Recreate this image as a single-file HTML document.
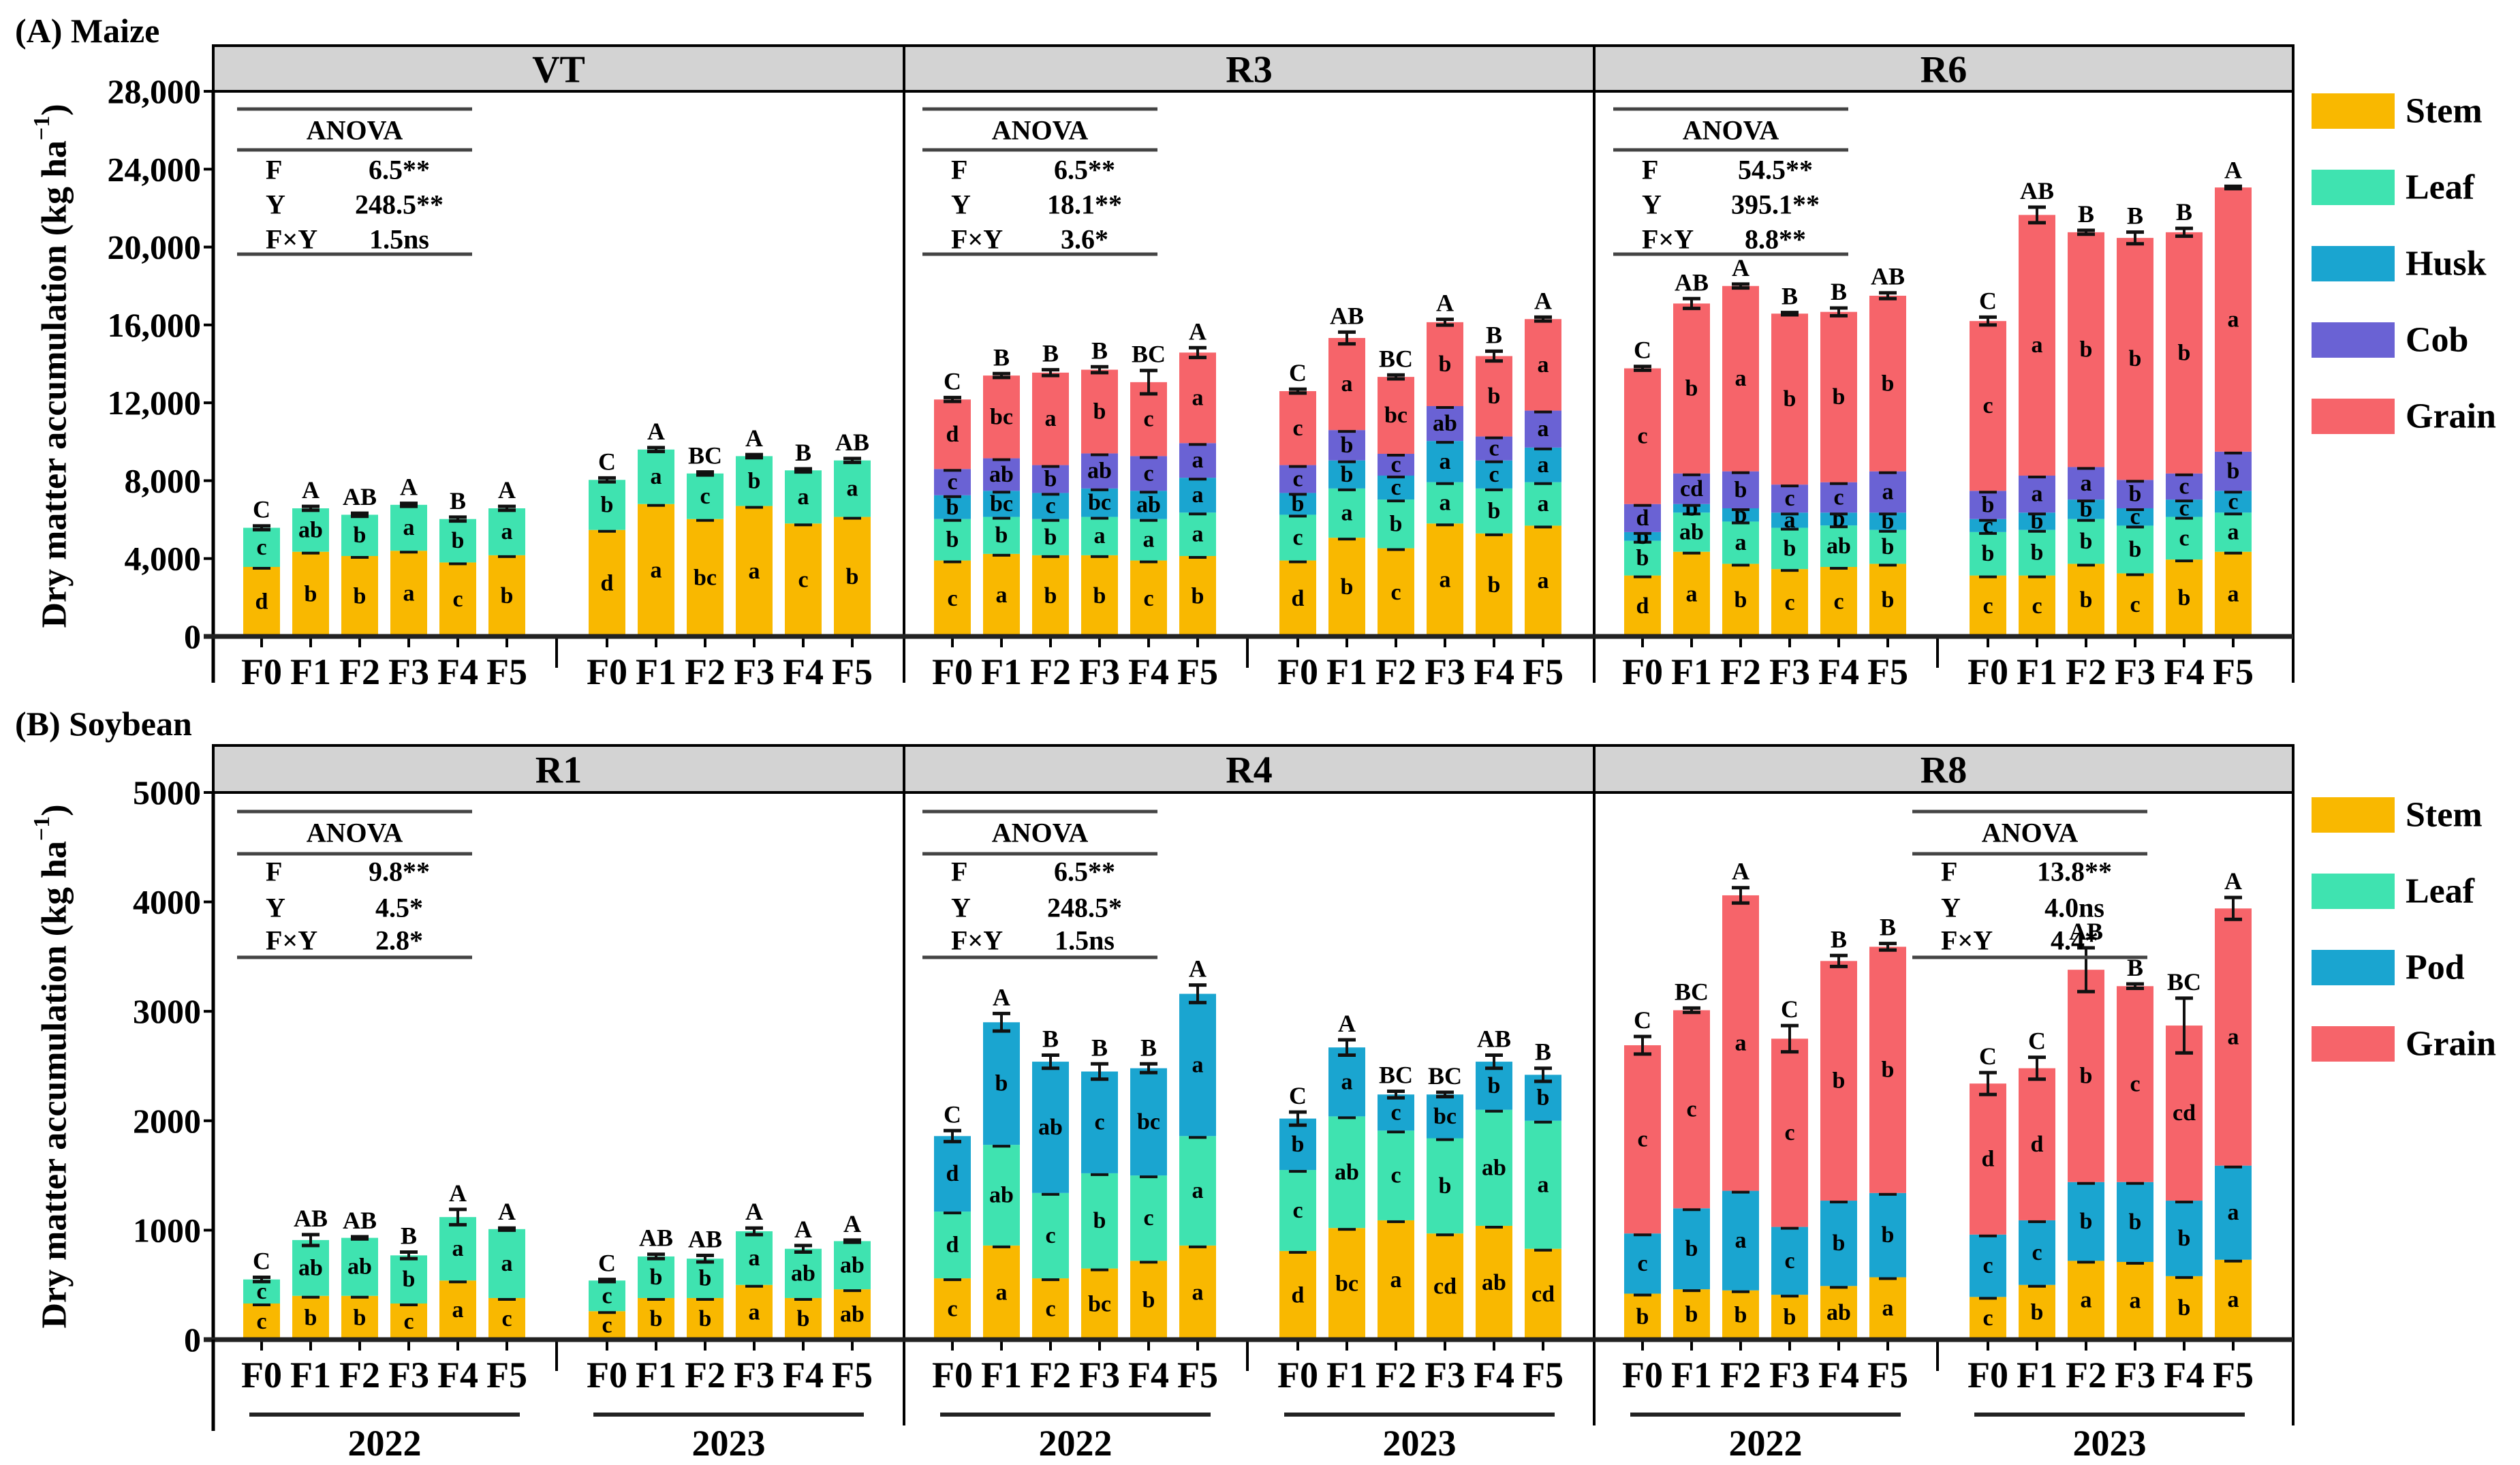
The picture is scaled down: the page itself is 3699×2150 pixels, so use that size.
<!DOCTYPE html>
<html><head><meta charset="utf-8"><style>
html,body{margin:0;padding:0;background:#fff;}
svg{display:block;font-family:"Liberation Serif",serif;font-weight:bold;}
</style></head><body>
<svg id="chart" width="3699" height="2150" viewBox="0 0 3699 2150" xmlns="http://www.w3.org/2000/svg"></svg>
<script>
// ---------- data (kg/ha) ----------
const treatments = ['F0','F1','F2','F3','F4','F5'];
const years = ['2022','2023'];
const maizeYTicks = [0,4000,8000,12000,16000,20000,24000,28000];
const maizeYTickLabels = ['0','4,000','8,000','12,000','16,000','20,000','24,000','28,000'];
const soyYTicks = [0,1000,2000,3000,4000,5000];
const soyYTickLabels = ['0','1000','2000','3000','4000','5000'];

const vtStem = [3570,4350,4130,4400,3800,4170, 5470,6800,6030,6700,5800,6140];
const vtLeaf = [2010,2230,2120,2360,2230,2410, 2570,2800,2340,2560,2730,2900];
const vtErr  = [100,100,80,80,100,100, 100,100,80,80,80,100];

const r3Stem  = [3900,4240,4170,4170,3900,4130, 3900,5070,4530,5800,5290,5690];
const r3Leaf  = [2130,1900,1860,1970,2130,2230, 2350,2530,2500,2120,2310,2230];
const r3Husk  = [1220,1340,1340,1460,1450,1790, 1120,1440,1230,2120,1440,1780];
const r3Cob   = [1350,1670,1430,1800,1780,1780, 1430,1560,1120,1790,1230,1900];
const r3Grain = [3570,4250,4750,4300,3800,4650, 3800,4730,3950,4310,4130,4700];
const r3Err   = [100,100,150,150,600,250, 100,300,100,150,250,100];

const r6Stem  = [3130,4350,3730,3460,3570,3730, 3130,3130,3730,3240,3950,4350];
const r6Leaf  = [1780,2010,2170,2120,2130,1740, 2230,2340,2300,2450,2190,2010];
const r6Husk  = [450,440,680,780,660,890, 670,890,1000,890,890,1120];
const r6Cob   = [1440,1570,1900,1440,1560,2120, 1450,1900,1670,1460,1340,2010];
const r6Grain = [6970,8730,9520,8780,8750,9020, 8720,13390,12060,12430,12390,13570];
const r6Err   = [100,250,100,60,200,150, 200,400,100,300,200,60];

const r1Stem = [330,400,400,330,540,380, 260,380,380,500,380,460];
const r1Leaf = [220,510,530,440,580,630, 280,380,360,490,450,440];
const r1Err  = [20,50,10,30,70,10, 10,20,30,30,30,10];

const r4Stem = [560,860,560,650,720,860, 810,1020,1090,970,1040,830];
const r4Leaf = [610,920,780,870,780,1000, 740,1020,820,870,1060,1170];
const r4Pod  = [690,1120,1200,930,980,1300, 470,630,330,400,440,420];
const r4Err  = [50,80,60,70,40,80, 60,70,30,20,60,60];

const r8Stem  = [420,460,450,410,490,570, 390,500,720,710,580,730];
const r8Pod   = [550,740,910,620,780,770, 570,590,720,730,690,860];
const r8Grain = [1720,1810,2700,1720,2190,2250, 1380,1390,1940,1790,1600,2350];
const r8Err   = [80,20,70,120,50,30, 100,100,200,20,250,100];

// significance letters
const vtTop = ['C','A','AB','A','B','A','C','A','BC','A','B','AB'];
const vtStemL = ['d','b','b','a','c','b','d','a','bc','a','c','b'];
const vtLeafL = ['c','ab','b','a','b','a','b','a','c','b','a','a'];
const r3Top = ['C','B','B','B','BC','A','C','AB','BC','A','B','A'];
const r3StemL = ['c','a','b','b','c','b','d','b','c','a','b','a'];
const r3LeafL = ['b','b','b','a','a','a','c','a','b','a','b','a'];
const r3HuskL = ['b','bc','c','bc','ab','a','b','b','c','a','c','a'];
const r3CobL = ['c','ab','b','ab','c','a','c','b','c','ab','c','a'];
const r3GrainL = ['d','bc','a','b','c','a','c','a','bc','b','b','a'];
const r6Top = ['C','AB','A','B','B','AB','C','AB','B','B','B','A'];
const r6StemL = ['d','a','b','c','c','b','c','c','b','c','b','a'];
const r6LeafL = ['b','ab','a','b','ab','b','b','b','b','b','c','a'];
const r6HuskL = ['b','b','b','a','b','b','c','b','b','c','c','c'];
const r6CobL = ['d','cd','b','c','c','a','b','a','a','b','c','b'];
const r6GrainL = ['c','b','a','b','b','b','c','a','b','b','b','a'];
const r1Top = ['C','AB','AB','B','A','A','C','AB','AB','A','A','A'];
const r1StemL = ['c','b','b','c','a','c','c','b','b','a','b','ab'];
const r1LeafL = ['c','ab','ab','b','a','a','c','b','b','a','ab','ab'];
const r4Top = ['C','A','B','B','B','A','C','A','BC','BC','AB','B'];
const r4StemL = ['c','a','c','bc','b','a','d','bc','a','cd','ab','cd'];
const r4LeafL = ['d','ab','c','b','c','a','c','ab','c','b','ab','a'];
const r4PodL = ['d','b','ab','c','bc','a','b','a','c','bc','b','b'];
const r8Top = ['C','BC','A','C','B','B','C','C','AB','B','BC','A'];
const r8StemL = ['b','b','b','b','ab','a','c','b','a','a','b','a'];
const r8PodL = ['c','b','a','c','b','b','c','c','b','b','b','a'];
const r8GrainL = ['c','c','a','c','b','b','d','d','b','c','cd','a'];

const anovaVT = [['F','6.5**'],['Y','248.5**'],['F×Y','1.5ns']];
const anovaR3 = [['F','6.5**'],['Y','18.1**'],['F×Y','3.6*']];
const anovaR6 = [['F','54.5**'],['Y','395.1**'],['F×Y','8.8**']];
const anovaR1 = [['F','9.8**'],['Y','4.5*'],['F×Y','2.8*']];
const anovaR4 = [['F','6.5**'],['Y','248.5*'],['F×Y','1.5ns']];
const anovaR8 = [['F','13.8**'],['Y','4.0ns'],['F×Y','4.4*']];

// ---------- drawing ----------
const C = {stem:'#F9B800', leaf:'#3FE3B0', husk:'#1AA5D0', cob:'#6A62D4', grain:'#F6646A'};
const NS='http://www.w3.org/2000/svg';
const svg=document.getElementById('chart');
function mk(tag,attrs,parent,text){const e=document.createElementNS(NS,tag);for(const k in attrs)e.setAttribute(k,attrs[k]);if(text!==undefined)e.textContent=text;(parent||svg).appendChild(e);return e;}

const AXL=313, PR=[313,1327,2340,3366];
function barX(pl,i){return pl + (i<6 ? 71+72*i : 578+72*(i-6));}

function drawRow(o){
  const y0=o.y0, yTop=o.yTop, ymax=o.ymax;
  const ys=v=>y0-(v/ymax)*(y0-yTop);
  const g=mk('g',{});  
  const t=mk('text',{x:22,y:o.titleY,'font-size':50,'dominant-baseline':'central'},g,o.title);
   
  for(let p=0;p<3;p++){
    const r=mk('rect',{x:PR[p],y:o.stripY,width:PR[p+1]-PR[p],height:yTop-o.stripY,fill:'#d3d3d3',stroke:'#000','stroke-width':4},g);
     
    const st=mk('text',{x:(PR[p]+PR[p+1])/2,y:(o.stripY+yTop)/2+2,'font-size':56,'text-anchor':'middle','dominant-baseline':'central'},g,o.stages[p]);
     
  }
  for(let p=0;p<4;p++){mk('line',{x1:PR[p],y1:yTop,x2:PR[p],y2:o.frameBottom,stroke:'#000','stroke-width':p==0?5:4},g);}
  o.yTicks.forEach((v,k)=>{
    mk('line',{x1:AXL-14,y1:ys(v),x2:AXL,y2:ys(v),stroke:'#000','stroke-width':4},g);
    const tl=mk('text',{x:AXL-18,y:ys(v),'font-size':50,'text-anchor':'end','dominant-baseline':'central'},g,o.yLabels[k]);
     
  });
  const yt=mk('text',{x:0,y:0,'font-size':52,'text-anchor':'middle','dominant-baseline':'central',transform:`translate(80,${o.ytitleY}) rotate(-90)`},g);
   
  yt.appendChild(document.createTextNode('Dry matter accumulation (kg ha'));
  mk('tspan',{'baseline-shift':'super','font-size':34},yt,'−1');
  yt.appendChild(document.createTextNode(')'));
  o.panels.forEach((pn,p)=>{
    const pl=PR[p];
    const pg=mk('g',{},g);  
    for(let i=0;i<12;i++){
      const cx=barX(pl,i); let cum=0; const w=54;
      pn.segs.forEach((s,si)=>{
        const v=s.vals[i]; const yb=ys(cum), yt2=ys(cum+v);
        const r=mk('rect',{x:cx-w/2,y:yt2,width:w,height:yb-yt2,fill:s.color},pg);
        
        
        if(s.letters){mk('text',{x:cx,y:(yb+yt2)/2,'font-size':34,'text-anchor':'middle','dominant-baseline':'central'},pg,s.letters[i]);}
        cum+=v;
        if(si<pn.segs.length-1){mk('rect',{x:cx-13,y:ys(cum)-4,width:26,height:8,fill:'#111'},pg);}
      });
      const e=pn.err[i];
      mk('line',{x1:cx,y1:ys(cum-e),x2:cx,y2:ys(cum+e),stroke:'#111','stroke-width':4},pg);
      mk('line',{x1:cx-13,y1:ys(cum+e),x2:cx+13,y2:ys(cum+e),stroke:'#111','stroke-width':5},pg);
      mk('line',{x1:cx-13,y1:ys(cum-e),x2:cx+13,y2:ys(cum-e),stroke:'#111','stroke-width':5},pg);
      const tl=mk('text',{x:cx,y:ys(cum+e)-24,'font-size':36,'text-anchor':'middle','dominant-baseline':'central'},pg,pn.top[i]);
       
      mk('line',{x1:cx,y1:y0,x2:cx,y2:y0+16,stroke:'#000','stroke-width':4},pg);
      const xl=mk('text',{x:cx,y:y0+52,'font-size':54,'text-anchor':'middle','dominant-baseline':'central'},pg,treatments[i%6]);
       
    }
    mk('line',{x1:pl+504,y1:y0,x2:pl+504,y2:y0+46,stroke:'#000','stroke-width':4},pg);
    if(o.years){
      [[pl+53,pl+450],[pl+558,pl+955]].forEach((s,k)=>{
        mk('line',{x1:s[0],y1:o.yearLineY,x2:s[1],y2:o.yearLineY,stroke:'#222','stroke-width':6},pg);
        const yl=mk('text',{x:(s[0]+s[1])/2,y:o.yearLineY+42,'font-size':54,'text-anchor':'middle','dominant-baseline':'central'},pg,years[k]);
         
      });
    }
    const ax=pl+(pn.anovaX||30), aw=345;
    const ag=mk('g',{},pg);  
    [o.an[0],o.an[1],o.an[2]].forEach(yy=>mk('line',{x1:ax,y1:yy,x2:ax+aw,y2:yy,stroke:'#444','stroke-width':5},ag));
    mk('text',{x:ax+aw/2,y:o.an[3],'font-size':40,'text-anchor':'middle','dominant-baseline':'central'},ag,'ANOVA');
    pn.anova.forEach((row,k)=>{
      mk('text',{x:ax+42,y:o.an[4+k],'font-size':40,'dominant-baseline':'central'},ag,row[0]);
      mk('text',{x:ax+238,y:o.an[4+k],'font-size':40,'text-anchor':'middle','dominant-baseline':'central'},ag,row[1]);
    });
  });
  mk('line',{x1:AXL-14,y1:y0,x2:3366,y2:y0,stroke:'#222','stroke-width':7},g);
  const lg=mk('g',{},g);  
  o.legend.forEach((it,k)=>{
    const yy=o.legY+k*112;
    const r=mk('rect',{x:3393,y:yy,width:122,height:52,fill:it[1]},lg);
     
    mk('text',{x:3531,y:yy+26,'font-size':52,'dominant-baseline':'central'},lg,it[0]);
  });
}

drawRow({name:'maize-row',title:'(A) Maize',titleY:45,stripY:67,yTop:134,y0:934,ymax:28000,frameBottom:1002,
  yTicks:maizeYTicks,yLabels:maizeYTickLabels,ytitleY:537,stages:['VT','R3','R6'],years:false,
  an:[160,220,373,191,249,300,351],
  legY:137,legend:[['Stem',C.stem],['Leaf',C.leaf],['Husk',C.husk],['Cob',C.cob],['Grain',C.grain]],
  panels:[
    {segs:[{key:'stem',vals:vtStem,color:C.stem,letters:vtStemL},{key:'leaf',vals:vtLeaf,color:C.leaf,letters:vtLeafL}],err:vtErr,top:vtTop,anova:anovaVT,anovaX:35},
    {segs:[{key:'stem',vals:r3Stem,color:C.stem,letters:r3StemL},{key:'leaf',vals:r3Leaf,color:C.leaf,letters:r3LeafL},{key:'husk',vals:r3Husk,color:C.husk,letters:r3HuskL},{key:'cob',vals:r3Cob,color:C.cob,letters:r3CobL},{key:'grain',vals:r3Grain,color:C.grain,letters:r3GrainL}],err:r3Err,top:r3Top,anova:anovaR3,anovaX:27},
    {segs:[{key:'stem',vals:r6Stem,color:C.stem,letters:r6StemL},{key:'leaf',vals:r6Leaf,color:C.leaf,letters:r6LeafL},{key:'husk',vals:r6Husk,color:C.husk,letters:r6HuskL},{key:'cob',vals:r6Cob,color:C.cob,letters:r6CobL},{key:'grain',vals:r6Grain,color:C.grain,letters:r6GrainL}],err:r6Err,top:r6Top,anova:anovaR6,anovaX:28}
  ]});

drawRow({name:'soybean-row',title:'(B) Soybean',titleY:1062,stripY:1094,yTop:1163,y0:1966,ymax:5000,frameBottom:2092,
  yTicks:soyYTicks,yLabels:soyYTickLabels,ytitleY:1565,stages:['R1','R4','R8'],years:true,yearLineY:2076,
  an:[1191,1253,1405,1222,1279,1332,1380],
  legY:1170,legend:[['Stem',C.stem],['Leaf',C.leaf],['Pod',C.husk],['Grain',C.grain]],
  panels:[
    {segs:[{key:'stem',vals:r1Stem,color:C.stem,letters:r1StemL},{key:'leaf',vals:r1Leaf,color:C.leaf,letters:r1LeafL}],err:r1Err,top:r1Top,anova:anovaR1,anovaX:35},
    {segs:[{key:'stem',vals:r4Stem,color:C.stem,letters:r4StemL},{key:'leaf',vals:r4Leaf,color:C.leaf,letters:r4LeafL},{key:'pod',vals:r4Pod,color:C.husk,letters:r4PodL}],err:r4Err,top:r4Top,anova:anovaR4,anovaX:27},
    {segs:[{key:'stem',vals:r8Stem,color:C.stem,letters:r8StemL},{key:'pod',vals:r8Pod,color:C.husk,letters:r8PodL},{key:'grain',vals:r8Grain,color:C.grain,letters:r8GrainL}],err:r8Err,top:r8Top,anova:anovaR8,anovaX:467}
  ]});
mk('line',{x1:AXL,y1:1966,x2:AXL,y2:2100,stroke:'#000','stroke-width':5});
</script>
</body></html>
